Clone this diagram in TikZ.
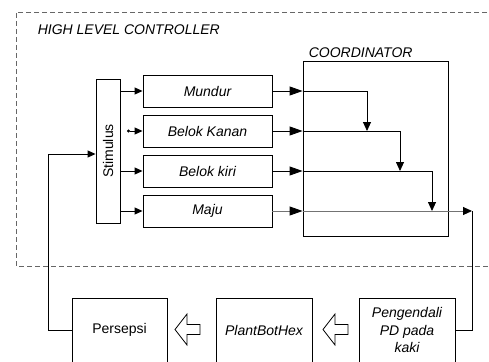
\documentclass[tikz,border=0pt]{standalone}
\usepackage{fontspec}
\setmainfont{Liberation Sans}
\usetikzlibrary{arrows.meta,calc}
\begin{document}
\begin{tikzpicture}[x=1pt,y=-1pt,line width=0.9pt,
  box/.style={draw,rectangle,inner sep=0pt,font=\fontsize{14}{17.5}\selectfont\itshape},
  plainbox/.style={draw,rectangle,inner sep=0pt,font=\fontsize{14}{17.5}\selectfont},
  inarr/.style={-{Triangle[length=8pt,width=7pt]}},
  bigarr/.style={-{Triangle[length=13pt,width=9pt,color=black]}},
  arr/.style={-{Triangle[length=9pt,width=8pt,color=black]}},
  grayline/.style={draw=black!55},
  hollow/.style={draw,fill=white,line width=0.8pt,line join=miter},
  grp/.style={draw=black!60,dash pattern=on 5pt off 3pt,line width=0.9pt}]
\clip (0,0) rectangle (489,361);
% group frame
\draw[grp] (495,12) -- (16,12) -- (16,266) -- (495,266);
\node[anchor=west,font=\fontsize{14}{17.5}\selectfont\itshape] (hlc) at (34,30) {HIGH LEVEL CONTROLLER};
% nodes
\node[plainbox,rotate=90,minimum width=144pt,minimum height=24pt] (stim) at (108,151) {Stimulus};
\node[box,minimum width=129pt,minimum height=32pt] (mundur) at (207.5,91) {Mundur};
\node[box,minimum width=129pt,minimum height=32pt] (kanan) at (207.5,131) {Belok Kanan};
\node[box,minimum width=129pt,minimum height=32pt] (kiri) at (207.5,171) {Belok kiri};
\node[box,minimum width=129pt,minimum height=32pt] (maju) at (207.5,211) {Maju};
\node[box,minimum width=145pt,minimum height=175pt] (coord) at (375.5,148.5) {};
\node[anchor=west,font=\fontsize{14}{17.5}\selectfont\itshape] (coordlbl) at (305,53) {COORDINATOR};
\node[plainbox,minimum width=95pt,minimum height=64pt] (persepsi) at (119.5,330) {Persepsi};
\node[box,minimum width=96pt,minimum height=64pt] (plant) at (264,330) {PlantBotHex};
\node[box,minimum width=96pt,minimum height=64pt,align=center] (peng) at (407,330) {Pengendali\\PD pada\\kaki};
% coordinates
\coordinate (j1) at (367,131);
\coordinate (j2) at (400,171);
\coordinate (j3) at (432,211);
\coordinate (out) at (472,211);
\coordinate (fb) at (48,154);
\coordinate (kdot) at (127,131);
% stimulus outputs
\draw[inarr] (stim.south |- mundur) -- (mundur);
\draw[{Circle[length=3pt]}-{Triangle[length=8pt,width=7pt]}] (kdot) -- (kanan);
\draw[inarr] (stim.south |- kiri) -- (kiri);
\draw[inarr] (stim.south |- maju) -- (maju);
% into coordinator
\draw[bigarr] (mundur) -- (coord.west |- mundur);
\draw[bigarr] (kanan) -- (coord.west |- kanan);
\draw[bigarr] (kiri) -- (coord.west |- kiri);
\draw[bigarr,grayline] (maju) -- (coord.west |- maju);
\draw[arr] (coord.west |- mundur) -| (j1);
\draw[arr] (coord.west |- kanan) -| (j2);
\draw[arr] (coord.west |- kiri) -| (j3);
\draw[arr,grayline] (coord.west |- maju) -- (out);
% loop
\draw (out) |- (peng.east);
\draw[inarr] (persepsi.west) -| (fb) -- (fb -| stim.north);
% hollow arrows
\draw[hollow] (175,329.5) -- ++(12,-15.5) -- ++(0,10.5) -- ++(13,0) -- ++(0,10) -- ++(-13,0) -- ++(0,10.5) -- cycle;
\draw[hollow] (323,329.5) -- ++(12,-15.5) -- ++(0,10.5) -- ++(13,0) -- ++(0,10) -- ++(-13,0) -- ++(0,10.5) -- cycle;
\end{tikzpicture}
\end{document}
